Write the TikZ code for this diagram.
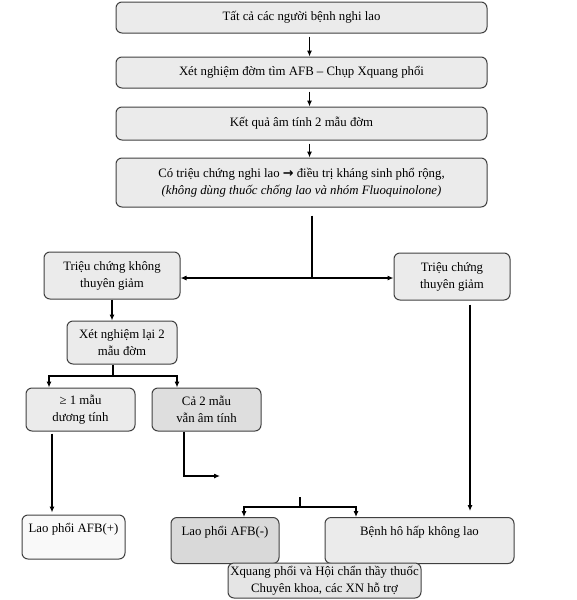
\documentclass[tikz,border=0pt]{standalone}
\usepackage{fontspec}
\setmainfont{Liberation Serif}
\newfontfamily\arrowfont{DejaVu Sans}
\usetikzlibrary{arrows.meta}
\usetikzlibrary{calc}

\begin{document}
\begin{tikzpicture}[x=1pt, y=-1pt, >={Latex[length=6pt,width=5pt]},
	box/.style={draw=black!75, line width=1pt, rounded corners=6pt, fill=gray!16,
		align=center, inner sep=0pt, font=\fontsize{12.8}{17}\selectfont},
	topbox/.style={box, inner ysep=3pt, text height=13pt, text depth=27pt},
	link/.style={line width=1.1pt}]
\useasboundingbox (0,0) rectangle (576,600);

% main column
\node[box, minimum width=371, minimum height=31] (all) at (301.5,17.5) {Tất cả các người bệnh nghi lao};
\node[box, minimum width=371, minimum height=31] (test) at (301.5,72.5) {Xét nghiệm đờm tìm AFB -- Chụp Xquang phổi};
\node[box, minimum width=371, minimum height=33] (neg) at (301.5,123.5) {Kết quả âm tính 2 mẫu đờm};
\node[box, minimum width=371, minimum height=49] (treat) at (301.5,182.5)
	{Có triệu chứng nghi lao {\arrowfont\bfseries →} điều trị kháng sinh phổ rộng,\\
	\textit{(không dùng thuốc chống lao và nhóm Fluoquinolone)}};

% branches
\node[box, minimum width=136, minimum height=47] (nochange) at (112,275.5) {Triệu chứng không\\thuyên giảm};
\node[box, minimum width=116, minimum height=47] (better) at (452,276.5) {Triệu chứng\\thuyên giảm};
\node[box, minimum width=110, minimum height=43] (retest) at (122,342.5) {Xét nghiệm lại 2\\mẫu đờm};
\node[box, minimum width=109, minimum height=43] (pos) at (80.5,409.5) {≥ 1 mẫu\\dương tính};
\node[box, minimum width=109, minimum height=43, fill=gray!26] (stillneg) at (206.5,409.5) {Cả 2 mẫu\\vẫn âm tính};

% results
\node[topbox, minimum width=103, minimum height=44, fill=gray!5, text height=14pt, text depth=24pt] (afbpos) at (73.5,537) {Lao phổi AFB(+)};
\node[topbox, minimum width=108, minimum height=43, fill=gray!30, text height=15pt, text depth=25pt] (afbneg) at (225,540.5) {Lao phổi AFB(-)};
\node[topbox, minimum width=189, minimum height=43, text height=15pt, text depth=25pt] (other) at (419.5,540.5) {Bệnh hô hấp không lao};
\node[box, minimum width=193, minimum height=35, fill=gray!20] (xray) at (324.5,580.5) {Xquang phổi và Hội chẩn thầy thuốc\\Chuyên khoa, các XN hỗ trợ};

\coordinate (split) at (312,278);
\coordinate (split2) at (113,376);
\coordinate (split2l) at (49,376);
\coordinate (split2r) at (177,376);
\coordinate (turn) at (184,476);
\coordinate (turnend) at (220,476);
\coordinate (split3top) at (300,497);
\coordinate (split3) at (300,507);
\coordinate (split3l) at (244,507);
\coordinate (split3r) at (356,507);
\coordinate (rdown) at (470,0);

\draw[link, ->] ($(all.south)+(8,3)$) -- ($(test.north)+(8,0)$);
\draw[link, ->] ($(test.south)+(8,3)$) -- ($(neg.north)+(8,0)$);
\draw[link, ->] ($(neg.south)+(8,3)$) -- ($(treat.north)+(8,0)$);
\draw[link] ($(treat.south -| split)+(0,8)$) -- (split);
\draw[link, ->] (split) -- (split -| nochange.east);
\draw[link, ->] (split) -- (split -| better.west);

\draw[link, ->] (nochange.south) -- (nochange.south |- retest.north);
\draw[link] (split2 |- retest.south) -- (split2);
\draw[link, ->] (split2) -- (split2l) -- (split2l |- pos.north);
\draw[link, ->] (split2) -- (split2r) -- (split2r |- stillneg.north);

\draw[link, ->] ($(split2l |- pos.south)+(3,2)$) -- ($(split2l |- afbpos.north)+(3,-2)$);
\draw[link, ->] (stillneg.south -| turn) -- (turn) -- (turnend);

\draw[link] (split3top) -- (split3);
\draw[link, ->] (split3) -- (split3l) -- (split3l |- afbneg.north);
\draw[link, ->] (split3) -- (split3r) -- (split3r |- other.north);

\draw[link, ->] ($(better.south -| rdown)+(0,4)$) -- ($(other.north -| rdown)+(0,-6)$);
\end{tikzpicture}
\end{document}
